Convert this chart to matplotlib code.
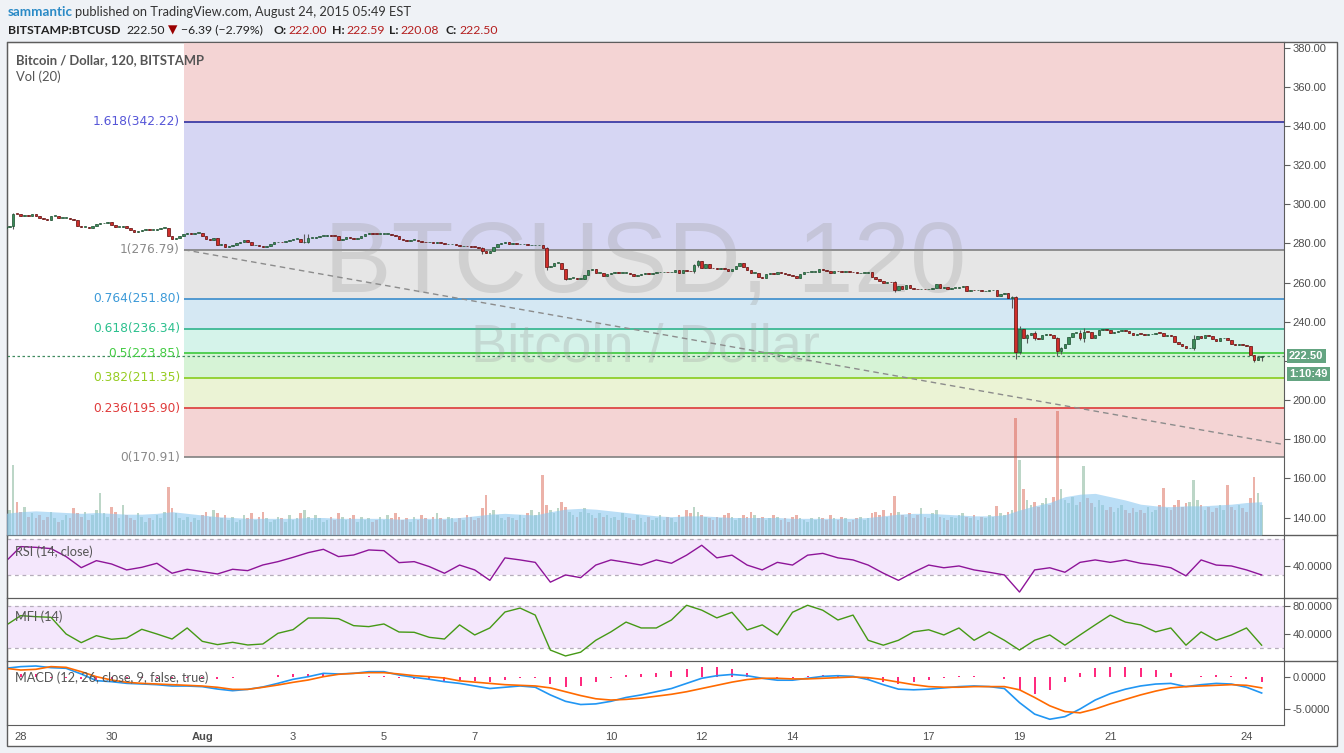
import matplotlib
matplotlib.use("Agg")
import matplotlib.pyplot as plt
from matplotlib.patches import Rectangle
import numpy as np

# BITSTAMP:BTCUSD, 2h bars, x axis in days from Jul 28 2015 00:00
closes = [288.5,
    289, 295.3, 295, 294, 294.5, 294, 295, 294, 293, 292.5,
    292.2, 294, 294, 293, 293, 293, 292.5, 292, 288.8, 288.5,
    288.5, 288, 289, 290, 290.3, 290.6, 291, 289.5, 288.5, 288.5,
    288.8, 288, 287, 286, 286.5, 287, 287.5, 287, 287, 287.5,
    288, 288, 284, 282.5, 283, 284, 285, 285.5, 285, 285.5,
    285.5, 284, 282.5, 282, 283,
    279, 279.5, 278, 278.5, 279, 280, 281, 282, 281, 279,
    279, 278.5, 278, 278.5, 279.5, 280.5, 281, 280.5, 281.5, 282,
    282.5, 282.5, 280.5, 280.5, 282.7, 282.8, 283.5, 284, 284, 284.5,
    284, 283.8, 282, 282.3, 283.5, 283, 282.5, 283, 284, 285,
    285.5, 285, 284.8, 285, 285, 285, 284.5, 283.8, 282.5, 282,
    281.5, 282, 282, 281.5, 281, 280.5, 280.5, 280,
    280.5, 280, 279.5, 279.5, 279.5, 279, 278.5, 278.6, 278.5, 278.4,
    278.2, 277.9, 276, 275.3, 276, 278, 279.5, 280, 280.5, 279.5,
    280, 279.5, 279.5, 279.5, 279, 279, 279, 279, 277.5, 268,
    268.5, 270, 270, 267, 262, 262.5, 262.5, 262, 262, 264,
    266.5, 267, 265, 265, 263.5, 264.5, 265, 265.3, 265, 265,
    265, 264.5, 263.5, 264, 264.5, 265,
    264.3, 265, 265.2, 265.3, 265.5, 265.3, 265.5, 266.2, 264.8, 266.3,
    266, 265.8, 268.8, 271, 267.6, 269.6, 267.6, 267.3, 267.2, 267.3,
    266.9, 265.9, 267, 268.6, 269.8, 268.2, 266.4, 264.9, 265, 263,
    262.6, 264.2, 265.1, 264.6, 265.6, 264.8, 264.2, 264, 263.6, 262.2,
    264.2, 265.2, 265.5, 265.6, 265.6, 266.8, 266.3, 266, 264.9, 266.1,
    265.8, 265.3, 266, 265.4, 265.2, 264.8,
    265, 265, 265.2, 263.1, 261.7, 260.7, 259.7, 260.5, 260.2, 256.1,
    258.2, 257, 258.8, 257.3, 256.6, 256.5, 257, 256.5, 257, 257.5,
    259.3, 257.3, 257.8, 257, 257.5, 257.5, 258, 258.3, 255.8, 256.3,
    256, 256.3, 255.5, 255.8, 256, 256.2, 253, 254.1, 254.5, 252,
    252.5, 224.4, 236.5, 231.5, 233, 234.5, 231.5, 231.3, 233, 234,
    233, 231.5, 225, 226.5, 228.5, 232, 234.5,
    234.5, 231.5, 235, 234.8, 231.8, 233.5, 236, 236.3, 236, 234.5,
    235, 235.5, 236, 235.5, 234.5, 233.5, 234, 233.8, 233.5, 233.6,
    234, 234.5, 234.2, 232.5, 233, 232.5, 229.5, 228.5, 227.5, 226.5,
    226.8, 231, 232.5, 231.5, 233, 232.8, 231, 230, 231.5, 231.5,
    230.5, 228.7, 228, 228.5, 228.3, 227.5, 223, 220.6, 222, 222.5]
first_open = 288.0

# visible wicks: bar index -> (high, low)
wicks = {2: (295.8, 287.5), 79: (284.8, 280), 80: (285, 280.3), 126: (278.3, 274.5),
         143: (278, 266.5), 148: (267.2, 261.2), 182: (269.5, 265), 183: (271.6, 268),
         235: (260.6, 255.2), 266: (253.2, 247.0), 267: (253, 221.2), 268: (237.6, 223.4),
         270: (233.6, 229.2), 272: (235.2, 230.8), 278: (232.2, 222.3), 279: (227, 223.6),
         284: (235.8, 230.6), 285: (236.8, 229.8), 314: (233.4, 225.6), 330: (223.2, 219.6),
         331: (222.3, 220.5), 332: (222.59, 220.08)}

# volume, thousand BTC
volumes = [
    2.6, 3.0, 8.4, 4.0, 2.8, 3.4, 2.2, 2.6, 2.0, 2.4, 1.8, 2.2, 2.8, 2.0, 1.6, 1.8, 2.4, 2.0, 3.2, 2.6,
    2.2, 2.8, 1.8, 2.4, 3.0, 5.0, 2.6, 2.2, 3.4, 2.8, 2.0, 3.6, 2.4, 2.0, 1.8, 2.6, 2.2, 1.6, 2.0, 1.8,
    2.4, 2.0, 2.8, 5.8, 3.2, 2.6, 2.0, 1.8, 2.2, 1.6, 2.0, 1.8, 2.4, 2.8, 2.2, 3.0, 2.6, 2.0, 2.4, 1.8,
    2.2, 1.6, 1.8, 2.4, 2.0, 2.6, 1.8, 2.2, 2.8, 2.0, 1.6, 1.8, 2.2, 2.0, 1.6, 2.4, 1.8, 2.0, 2.6, 3.0,
    2.2, 1.8, 2.4, 2.0, 1.6, 1.8, 2.2, 1.8, 2.6, 2.2, 1.8, 2.0, 2.4, 1.6, 2.2, 1.8, 2.0, 1.6, 1.8, 2.2,
    1.8, 2.4, 2.0, 2.6, 2.2, 1.8, 2.0, 1.6, 2.2, 1.8, 2.4, 2.0, 1.8, 2.2, 2.6, 2.0, 1.8, 2.2, 2.0, 1.6,
    2.0, 1.8, 2.4, 2.2, 1.8, 2.0, 3.2, 4.8, 2.6, 3.0, 2.4, 2.0, 1.8, 2.2, 2.0, 1.8, 2.4, 2.0, 2.6, 3.0,
    2.4, 2.8, 7.2, 3.6, 3.0, 2.6, 3.2, 4.0, 3.4, 2.8, 2.4, 2.2, 2.8, 3.2, 2.6, 2.4, 2.0, 2.6, 2.2, 2.4,
    2.0, 2.2, 1.8, 2.6, 2.2, 2.0, 1.8, 2.4, 2.0, 1.6, 2.2, 1.8, 2.0, 2.4, 1.8, 2.2, 2.0, 1.6, 2.4, 2.2,
    3.0, 2.6, 3.4, 2.8, 2.4, 2.2, 2.0, 1.8, 2.2, 2.0, 2.4, 2.6, 2.2, 1.8, 2.0, 2.4, 2.2, 2.8, 2.4, 2.0,
    2.2, 1.8, 2.0, 2.4, 2.2, 1.8, 2.0, 1.6, 2.2, 2.4, 2.0, 1.8, 1.6, 2.0, 1.8, 2.2, 2.0, 1.8, 2.4, 2.0,
    1.8, 2.2, 2.0, 1.6, 1.8, 2.0, 2.2, 1.8, 2.0, 2.6, 2.8, 2.4, 3.0, 2.2, 2.6, 4.7, 2.8, 2.4, 2.2, 2.6,
    2.0, 2.4, 3.2, 2.2, 2.0, 2.6, 3.0, 2.2, 2.0, 1.8, 2.2, 2.0, 2.4, 2.6, 2.2, 2.0, 2.4, 1.8, 2.2, 2.0,
    2.4, 2.2, 3.5, 2.6, 2.4, 2.8, 3.0, 14.0, 9.0, 5.5, 4.2, 3.6, 4.0, 3.4, 3.8, 4.4, 3.6, 4.6, 14.9, 5.5,
    4.2, 3.8, 4.6, 3.6, 4.0, 8.3, 4.4, 3.8, 3.4, 4.2, 3.6, 3.0, 3.4, 2.8, 3.2, 3.6, 3.0, 2.6, 3.2, 2.8,
    3.0, 2.6, 3.4, 2.8, 3.0, 3.6, 5.6, 3.2, 3.0, 3.6, 4.2, 3.4, 3.8, 4.0, 6.6, 4.2, 3.6, 3.0, 3.4, 2.8,
    3.2, 3.6, 3.0, 6.0, 3.4, 3.0, 3.6, 3.2, 2.8, 4.5, 7.0, 5.0, 3.6]

# indicator readings, one every 4th bar
vol_ma = [2.6, 2.8, 2.9, 2.8, 2.7, 2.6, 2.7, 2.6, 2.5, 2.5, 2.6, 2.8,
          2.6, 2.4, 2.2, 2.1, 2.0, 2.0, 2.0, 2.0, 2.1, 2.1, 2.0, 2.0,
          2.0, 2.0, 1.9, 2.0, 2.0, 2.0, 2.1, 2.3, 2.5, 2.6, 2.5, 2.4,
          2.8, 3.1, 3.2, 3.1, 2.9, 2.7, 2.5, 2.3, 2.2, 2.3, 2.3, 2.2,
          2.1, 2.1, 2.1, 2.1, 2.0, 2.0, 2.0, 2.0, 2.0, 2.1, 2.3, 2.5,
          2.6, 2.6, 2.5, 2.4, 2.3, 2.3, 2.4, 3.0, 3.5, 3.9, 4.6, 4.9,
          5.0, 4.6, 4.2, 3.7, 3.5, 3.4, 3.5, 3.5, 3.6, 3.7, 3.9, 4.0]
rsi = [44.8, 61.5, 60.7, 59.3, 50.4, 38.1, 45.9, 42.2, 35.6, 38.5,
       43.0, 31.9, 36.3, 33.7, 31.1, 36.3, 34.8, 41.1, 44.8, 49.6,
       54.8, 58.5, 50.4, 52.2, 57.8, 57.0, 43.7, 44.8, 39.3, 31.9,
       41, 35.6, 24, 49, 46.7, 44, 22, 30, 27, 41,
       46.7, 44, 41, 46.7, 43, 52, 63, 49, 52, 41,
       35.6, 44, 41, 52, 54, 49, 46.7, 41, 32, 24,
       33, 41, 38, 40, 35.6, 33, 30, 11, 35.6, 38,
       33, 44, 46.7, 44, 46.7, 43, 41, 38, 29, 46.7,
       41, 40, 35.6, 30]
mfi = [52, 66.2, 64.7, 63.8, 40, 27.6, 37.6, 32.4, 34.3, 46.7,
       40, 32.8, 48.6, 29.5, 24.8, 28.1, 24.3, 25.7, 41, 46.2,
       62.8, 62.8, 61.9, 51.9, 50.5, 54.3, 42.8, 42.4, 35.2, 32.8,
       53, 38.6, 48.6, 71.4, 77, 67, 17, 8.6, 14, 31,
       43, 57, 48.6, 48.6, 60, 81, 74, 63, 71, 45.7,
       53, 38.6, 71, 81, 74, 60, 67, 31, 24, 31,
       43, 46, 38.6, 48.6, 31, 43, 31, 17, 31, 38.6,
       24, 38.6, 53, 67, 57, 53, 43, 48.6, 24, 43,
       31, 38.6, 48.6, 24]
macd = [1.36, 1.62, 1.72, 1.46, 1.36, 0.47, -0.57, -0.73, -0.99, -1.09,
        -1.2, -1.41, -1.41, -1.51, -1.88, -2.14, -1.93, -1.56, -0.99, -0.36,
        0.05, 0.57, 0.47, 0.57, 0.83, 0.83, 0.31, -0.05, -0.36, -0.73,
        -1.0, -1.4, -1.8, -1.6, -1.4, -1.6, -2.8, -3.8, -4.3, -4.2,
        -3.8, -3.2, -2.8, -2.3, -1.8, -1.0, -0.2, 0.2, 0.4, 0.2,
        -0.2, -0.5, -0.5, -0.2, 0.1, 0.2, 0.1, -0.4, -1.2, -1.9,
        -2.0, -1.9, -1.7, -1.5, -1.4, -1.5, -1.8, -4.0, -5.8, -6.6,
        -6.2, -5.0, -3.6, -2.6, -1.9, -1.4, -1.1, -1.0, -1.5, -1.2,
        -1.0, -1.1, -1.6, -2.5]
signal = [1.36, 1.09, 1.2, 1.62, 1.51, 0.83, 0.05, -0.47, -0.83, -0.99,
          -1.09, -1.2, -1.3, -1.41, -1.61, -1.93, -1.93, -1.61, -1.25, -0.83,
          -0.47, 0.05, 0.42, 0.57, 0.68, 0.68, 0.47, 0.21, 0.05, -0.16,
          -0.6, -0.8, -1.0, -1.2, -1.3, -1.4, -1.7, -2.3, -2.9, -3.4,
          -3.6, -3.5, -3.3, -3.0, -2.7, -2.3, -1.8, -1.3, -0.8, -0.4,
          -0.2, -0.2, -0.3, -0.3, -0.2, -0.1, 0.0, -0.1, -0.4, -0.8,
          -1.2, -1.5, -1.6, -1.6, -1.5, -1.5, -1.5, -2.0, -3.2, -4.5,
          -5.4, -5.6, -5.0, -4.2, -3.5, -2.8, -2.2, -1.7, -1.5, -1.4,
          -1.3, -1.2, -1.3, -1.7]

fib_levels = ["0", "0.236", "0.382", "0.5", "0.618", "0.764", "1", "1.618", "2.618"]
fib_prices = [170.91, 195.90, 211.35, 223.85, 236.34, 251.80, 276.79, 342.22, 448.10]
fib_line_colors = ["#808080", "#dc3a3a", "#88cc1c", "#3cc83c", "#30b48c", "#3a8ccc", "#808080", "#3030a0", "#808080"]
fib_text_colors = ["#8a8a8a", "#e03c3c", "#96cc22", "#44cc44", "#2cc08e", "#3c9ad8", "#8a8a8a", "#5656d8", "#8a8a8a"]
fib_fill_colors = ["#f4d4d4", "#ebf3d5", "#d6f3d6", "#d5f3ea", "#d5e8f3", "#e6e6e6", "#d6d6f3", "#f4d4d4"]
fib_start = 3.597
fib_end = 29.38

last_price = 222.50
countdown = "1:10:49"

day_ticks = [0, 2, 4, 6, 8, 10, 13, 15, 17, 20, 22, 24, 27]
day_labels = ["28", "30", "Aug", "3", "5", "7", "10", "12", "14", "17", "19", "21", "24"]

W, H = 1344, 753
fig = plt.figure(figsize=(W / 100, H / 100), dpi=100, facecolor="#eff2f6")
EDGE = "#5d5d5d"
TXT = "#4d4d4d"


def fx(px):
    return px / W


def fy(py):
    return 1 - py / H


fig.add_artist(Rectangle((fx(7), fy(746)), fx(1337) - fx(7), fy(42) - fy(746),
                         transform=fig.transFigure, fc="white", ec=EDGE, lw=1, zorder=-1))
for yy in (535, 598, 661):
    fig.add_artist(plt.Line2D([fx(1284), fx(1337)], [fy(yy), fy(yy)], color=EDGE, lw=1))

L, R = fx(7), fx(1284)
ax = fig.add_axes([L, fy(535), R - L, fy(42) - fy(535)])
ax_rsi = fig.add_axes([L, fy(598), R - L, fy(535) - fy(598)], sharex=ax)
ax_mfi = fig.add_axes([L, fy(661), R - L, fy(598) - fy(661)], sharex=ax)
ax_macd = fig.add_axes([L, fy(725), R - L, fy(661) - fy(725)], sharex=ax)

n = len(closes)
t = (27 + 8 / 24) - (n - 1 - np.arange(n)) / 12
o = np.array([first_open] + closes[:-1])
c = np.array(closes)
hi = np.maximum(o, c)
lo = np.minimum(o, c)
for i, (h, l) in wicks.items():
    hi[i], lo[i] = h, l
up = c >= o
ts = t[::4]

# fib retracement
for k in range(len(fib_prices) - 1):
    ax.fill_between([fib_start, 40], fib_prices[k], fib_prices[k + 1],
                    color=fib_fill_colors[k], lw=0, zorder=0)
for k, p in enumerate(fib_prices[:-1]):
    ax.hlines(p, fib_start, 40, color=fib_line_colors[k], lw=1.2, zorder=1)
    ax.annotate(f"{fib_levels[k]}({p:.2f})", xy=(fib_start, p), xytext=(-4, 0),
                textcoords="offset pixels", ha="right", va="center",
                color=fib_text_colors[k], fontsize=8.8, family="DejaVu Sans", zorder=5)
ax.plot([fib_start, fib_end], [fib_prices[6], fib_prices[0]], color="#8c8c8c",
        lw=1, ls=(0, (4, 3)), zorder=2)

# watermark
ax.text(0.5, 0.493, "BTCUSD, 120", transform=ax.transAxes, ha="center", va="baseline",
        fontsize=73, family="Liberation Sans", color="#999999", alpha=0.28, zorder=1)
ax.text(0.5, 0.351, "Bitcoin / Dollar", transform=ax.transAxes, ha="center", va="baseline",
        fontsize=39, family="Liberation Sans", color="#999999", alpha=0.28, zorder=1)

ax.axhline(last_price, color="#3f8a5f", lw=0.9, ls=(0, (2, 2)), zorder=2)

# candles
w = 0.66 / 12
ax.vlines(t, lo, hi, color="#5a5a5a", lw=0.8, zorder=3)
body_h = np.maximum(np.abs(c - o), 0.35)
ax.bar(t[up], body_h[up], bottom=np.minimum(o, c)[up], width=w, color="#3b8c59",
       edgecolor="#1d4f30", lw=0.5, zorder=4)
ax.bar(t[~up], body_h[~up], bottom=np.minimum(o, c)[~up], width=w, color="#cf2e2a",
       edgecolor="#5e0b0b", lw=0.5, zorder=4)

ax.set_xlim(-0.302, 27.826)
ax.set_ylim(131.1, 382.9)

# volume overlay
axv = ax.twinx()
vcol = np.where(up, "#6ba583", "#d75442")
axv.bar(t, volumes, width=0.7 / 12, color=vcol, alpha=0.45, lw=0)
axv.fill_between(ts, 0, vol_ma, color="#8cc8f0", alpha=0.6, lw=0)
axv.set_ylim(0, 59.2)
axv.axis("off")

# RSI
ax_rsi.axhspan(30, 70, color="#f4e7fc", lw=0)
for lvl in (30, 70):
    ax_rsi.axhline(lvl, color="#b5adbb", lw=0.9, ls=(0, (3, 3)))
ax_rsi.plot(ts, rsi, color="#8e1599", lw=1)
ax_rsi.set_ylim(4.4, 74.4)
ax_rsi.set_yticks([40])

# MFI
ax_mfi.axhspan(20, 80, color="#f4e7fc", lw=0)
for lvl in (20, 80):
    ax_mfi.axhline(lvl, color="#b5adbb", lw=0.9, ls=(0, (3, 3)))
ax_mfi.plot(ts, mfi, color="#459915", lw=1)
ax_mfi.set_ylim(1.4, 91.4)
ax_mfi.set_yticks([40, 80])

# MACD
hist = np.array(macd) - np.array(signal)
ax_macd.vlines(ts, 0, hist, color="#ff0066", lw=1.2)
ax_macd.plot(ts, macd, color="#2196f3", lw=1.2)
ax_macd.plot(ts, signal, color="#ff6a00", lw=1.2)
ax_macd.set_ylim(-7.5, 2.5)
ax_macd.set_yticks([0, -5])

for a in (ax, ax_rsi, ax_mfi, ax_macd):
    a.set_facecolor("none")
    for s in a.spines.values():
        s.set_color(EDGE)
    a.yaxis.tick_right()
    a.tick_params(axis="y", direction="out", length=4, color=EDGE, labelsize=8,
                  labelcolor=TXT, pad=2)
    a.tick_params(axis="x", length=0, labelbottom=False)

# the 220.00 label sits under the last-price boxes, as on the original
price_ticks = np.arange(140, 381, 20)
ax.set_yticks(price_ticks)
ax.set_yticklabels(["" if v == 220 else f"{v:.2f}" for v in price_ticks], family="Liberation Sans")
for a in (ax_rsi, ax_mfi, ax_macd):
    a.set_yticklabels([f"{v:.4f}" for v in a.get_yticks()], family="Liberation Sans")

ax_macd.set_xticks(day_ticks)
ax_macd.set_xticklabels(day_labels, family="Liberation Sans")
ax_macd.tick_params(axis="x", labelbottom=True, labelsize=8, labelcolor=TXT, pad=5)
for lab in ax_macd.get_xticklabels():
    if lab.get_text() == "Aug":
        lab.set_fontweight("bold")

# last price boxes
box = dict(boxstyle="square,pad=0.22", fc="#64a481", ec="none")
ax.annotate(f"{last_price:.2f}", xy=(1, last_price), xycoords=("axes fraction", "data"),
            xytext=(5, 0), textcoords="offset pixels", ha="left", va="center",
            color="white", fontsize=8, fontweight="bold", family="Liberation Sans",
            bbox=box, annotation_clip=False)
ax.annotate(countdown, xy=(1, last_price), xycoords=("axes fraction", "data"),
            xytext=(5, -18), textcoords="offset pixels", ha="left", va="center",
            color="white", fontsize=8, fontweight="bold", family="Liberation Sans",
            bbox=box, annotation_clip=False)

# pane titles
fam = ["Lato", "DejaVu Sans"]
fig.text(fx(16), fy(60), "Bitcoin / Dollar, 120, BITSTAMP", fontsize=9.4, fontweight="bold",
         color="#555555", va="center", family=fam)
fig.text(fx(16), fy(77), "Vol (20)", fontsize=9.4, color="#555555", va="center", family=fam)
fig.text(fx(15), fy(552), "RSI (14, close)", fontsize=9.2, color="#555555", va="center", family=fam)
fig.text(fx(15), fy(617), "MFI (14)", fontsize=9.2, color="#555555", va="center", family=fam)
fig.text(fx(15), fy(678), "MACD (12, 26, close, 9, false, true)", fontsize=9.2,
         color="#555555", va="center", family=fam)

# header
fig.text(fx(8), fy(12), "sammantic", fontsize=9.6, fontweight="bold", color="#2a8ac6",
         va="center", family=fam)
fig.text(fx(75), fy(12), "published on TradingView.com, August 24, 2015 05:49 EST", fontsize=9.3,
         color="#333333", va="center", family=fam)
header = [("BITSTAMP:BTCUSD", 8, "#222222", "bold"), ("222.50", 126, "#222222", "normal"),
          ("\u25bc", 168, "#9a0000", "normal"), ("\u22126.39 (\u22122.79%)", 181, "#222222", "normal"),
          ("O:", 274, "#222222", "bold"), ("222.00", 288, "#b41e1e", "normal"),
          ("H:", 332, "#222222", "bold"), ("222.59", 346, "#b41e1e", "normal"),
          ("L:", 389, "#222222", "bold"), ("220.08", 400, "#b41e1e", "normal"),
          ("C:", 445, "#222222", "bold"), ("222.50", 459, "#b41e1e", "normal")]
for txt, xp, col, wt in header:
    fig.text(fx(xp), fy(30), txt, fontsize=8.8, color=col, fontweight=wt, va="center",
             family=["DejaVu Sans"] if txt == "\u25bc" else fam)

fig.savefig("out.png", dpi=100, facecolor=fig.get_facecolor())
